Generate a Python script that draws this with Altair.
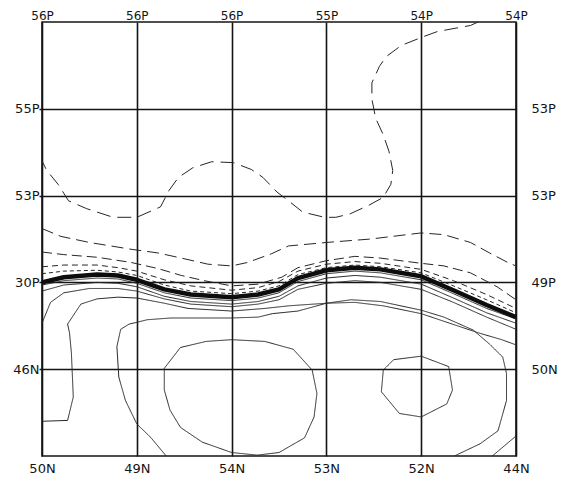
import json
import altair as alt
import pandas as pd

# ---- axis tick labels ----
top_labels = ["56P", "56P", "56P", "55P", "54P", "54P"]
bottom_labels = ["50N", "49N", "54N", "53N", "52N", "44N"]
left_labels = ["55P", "53P", "30P", "46N"]
right_labels = ["53P", "53P", "49P", "50N"]

# ---- contour lines, in grid units (x: column 0..5, y: row 0..5 from top) ----
A_x = [4.6, 4.52, 4.17, 4.02, 3.79, 3.63, 3.56, 3.48, 3.48, 3.52, 3.60, 3.66, 3.70, 3.68, 3.60, 3.45, 3.25, 3.10, 2.98,
       2.75, 2.60, 2.48, 2.33, 2.21, 2.02, 1.79, 1.59, 1.44, 1.34, 1.25, 1.00, 0.75, 0.47, 0.28, 0.17, 0.05, 0.0]
A_y = [0.0, 0.04, 0.11, 0.17, 0.27, 0.40, 0.51, 0.70, 0.89, 1.11, 1.30, 1.49, 1.71, 1.87, 2.02, 2.11, 2.21, 2.25, 2.25,
       2.19, 2.06, 1.96, 1.79, 1.70, 1.62, 1.61, 1.68, 1.79, 1.94, 2.13, 2.25, 2.25, 2.15, 2.06, 1.87, 1.71, 1.60]

B_x = [0.0, 0.2, 0.5, 0.95, 1.22, 1.47, 1.75, 2.0, 2.17, 2.42, 2.6, 3.0, 3.47, 4.0, 4.24, 4.52, 4.72, 4.93, 5.0]
B_y = [2.38, 2.47, 2.54, 2.62, 2.66, 2.72, 2.79, 2.81, 2.77, 2.67, 2.58, 2.54, 2.50, 2.43, 2.45, 2.54, 2.66, 2.78, 2.81]

C_x = [0.0, 0.23, 0.58, 0.94, 1.22, 1.47, 1.71, 2.0, 2.28, 2.53, 2.7, 3.0, 3.3, 3.57, 4.0, 4.24, 4.52, 4.8, 5.0]
C_y = [2.65, 2.68, 2.71, 2.77, 2.84, 2.92, 2.98, 3.04, 3.02, 2.94, 2.83, 2.75, 2.70, 2.72, 2.78, 2.81, 2.89, 3.05, 3.2]

F_x = [0.0, 0.23, 0.58, 0.8, 1.0, 1.29, 1.57, 2.0, 2.28, 2.5, 2.7, 3.0, 3.3, 3.57, 4.0, 4.34, 4.69, 5.0]
F_y = [3.0, 2.94, 2.91, 2.92, 2.97, 3.08, 3.14, 3.17, 3.14, 3.08, 2.95, 2.86, 2.83, 2.85, 2.93, 3.09, 3.26, 3.40]
D_y = [2.82, 2.80, 2.80, 2.83, 2.87, 2.97, 3.04, 3.09, 3.06, 2.99, 2.87, 2.79, 2.76, 2.78, 2.85, 2.98, 3.14, 3.30]
E_y = [2.90, 2.87, 2.86, 2.88, 2.92, 3.03, 3.10, 3.13, 3.10, 3.04, 2.91, 2.83, 2.80, 2.82, 2.89, 3.04, 3.20, 3.35]
T1_y = [3.03, 2.98, 2.95, 2.96, 3.01, 3.12, 3.18, 3.21, 3.18, 3.12, 2.99, 2.90, 2.87, 2.89, 2.97, 3.13, 3.30, 3.42]
T2_y = [3.10, 3.03, 3.00, 3.01, 3.05, 3.16, 3.22, 3.25, 3.22, 3.16, 3.04, 2.95, 2.92, 2.94, 3.02, 3.18, 3.35, 3.47]

T3_x = [0.0, 0.09, 0.23, 0.5, 0.8, 1.0, 1.29, 1.57, 2.0, 2.28, 2.5, 2.7, 3.0, 3.3, 3.57, 4.0, 4.34, 4.69, 5.0]
T3_y = [3.47, 3.23, 3.12, 3.07, 3.07, 3.10, 3.19, 3.25, 3.28, 3.25, 3.20, 3.08, 3.01, 2.98, 3.00, 3.08, 3.23, 3.40, 3.54]

J_x = [0.0, 0.27, 0.33, 0.31, 0.29, 0.27, 0.41, 0.58, 0.8, 1.0, 1.29, 1.54, 2.0, 2.35, 2.6, 3.0, 3.3, 3.6, 4.0, 4.3,
       4.6, 4.85, 5.0]
J_y = [4.6, 4.59, 4.32, 3.81, 3.58, 3.48, 3.25, 3.19, 3.17, 3.18, 3.24, 3.30, 3.33, 3.30, 3.27, 3.24, 3.23, 3.27, 3.36,
       3.47, 3.58, 3.66, 3.72]

M_x = [1.31, 1.15, 1.0, 0.88, 0.81, 0.79, 0.83, 0.92, 1.0, 1.11, 1.36, 1.64, 2.0, 2.28, 2.43, 2.7, 3.0, 3.26, 3.57,
       4.0, 4.24, 4.55, 4.72, 4.86, 4.9, 4.9, 4.81, 4.62, 4.35]
M_y = [5.0, 4.79, 4.63, 4.36, 4.09, 3.74, 3.54, 3.48, 3.46, 3.43, 3.41, 3.41, 3.41, 3.40, 3.36, 3.33, 3.24, 3.20, 3.22,
       3.32, 3.40, 3.55, 3.71, 3.86, 4.05, 4.36, 4.71, 4.86, 5.0]

L1_x = [1.29, 1.46, 1.73, 2.0, 2.35, 2.65, 2.85, 2.9, 2.87, 2.77, 2.5, 2.27, 2.0, 1.69, 1.46, 1.35, 1.29, 1.29]
L1_y = [3.99, 3.75, 3.68, 3.66, 3.68, 3.77, 4.01, 4.28, 4.55, 4.79, 4.96, 4.99, 4.96, 4.84, 4.67, 4.47, 4.24, 3.99]

L2_x = [3.6, 3.71, 4.0, 4.29, 4.33, 4.27, 4.0, 3.77, 3.58, 3.6]
L2_y = [4.01, 3.89, 3.85, 3.97, 4.24, 4.40, 4.55, 4.51, 4.26, 4.01]

N_x = [4.75, 5.0]
N_y = [5.0, 4.77]

rows = []


def add(name, xs, ys, style):
    for i, (x, y) in enumerate(zip(xs, ys)):
        rows.append({"line": name, "i": i, "x": x, "y": y, "style": style})


add("A", A_x, A_y, "dashA")
add("B", B_x, B_y, "dashB")
add("C", C_x, C_y, "dashC")
add("D", F_x, D_y, "dashD")
add("E", F_x, E_y, "dashE")
add("T1", F_x, T1_y, "solid")
add("T2", F_x, T2_y, "solid")
add("T3", T3_x, T3_y, "solid")
add("J", J_x, J_y, "solid")
add("M", M_x, M_y, "solid")
add("L1", L1_x, L1_y, "solid")
add("L2", L2_x, L2_y, "solid")
add("N", N_x, N_y, "solid")
df = pd.DataFrame(rows)
thick = pd.DataFrame({"x": F_x, "y": F_y, "i": list(range(len(F_x)))})

FONT = "DejaVu Sans"
FS = 13
INK = "#141414"


def lab(arr, offset=0):
    return f"{json.dumps(arr)}[datum.value - {offset}]"


contours = alt.Chart(df).mark_line(strokeWidth=1, color="#262626").encode(
    x=alt.X("x:Q", scale=alt.Scale(domain=[0, 5], nice=False, zero=False), title=None,
            axis=alt.Axis(orient="bottom", values=[0, 1, 2, 3, 4, 5], labelExpr=lab(bottom_labels),
                          grid=True, gridColor=INK, gridWidth=1.6, gridOpacity=1, ticks=False,
                          domain=False, labelPadding=6, labelFlush=False, labelFont=FONT,
                          labelFontSize=FS, labelColor=INK)),
    y=alt.Y("y:Q", scale=alt.Scale(domain=[0, 5], nice=False, zero=False, reverse=True), title=None,
            axis=alt.Axis(orient="left", values=[1, 2, 3, 4], labelExpr=lab(left_labels, 1),
                          grid=True, gridColor=INK, gridWidth=1.6, gridOpacity=1, ticks=True,
                          tickSize=3, tickColor=INK, tickWidth=1.5, domain=False, labelPadding=0,
                          labelFont=FONT, labelFontSize=FS, labelColor=INK)),
    detail="line:N",
    order="i:Q",
    strokeDash=alt.StrokeDash("style:N", legend=None, scale=alt.Scale(
        domain=["dashA", "dashB", "dashC", "dashD", "dashE", "solid"],
        range=[[14, 7], [12, 6], [10, 5], [6, 4], [4, 3], [1, 0]])),
)

thick_line = alt.Chart(thick).mark_line(strokeWidth=4.5, color="#0d0d0d", strokeJoin="round").encode(
    x=alt.X("x:Q", scale=alt.Scale(domain=[0, 5], nice=False, zero=False), title=None,
            axis=alt.Axis(orient="top", values=[0, 1, 2, 3, 4, 5], labelExpr=lab(top_labels),
                          grid=False, ticks=False, domain=False, labelPadding=0, labelFlush=False,
                          labelFont=FONT, labelFontSize=12, labelColor=INK)),
    y=alt.Y("y:Q", scale=alt.Scale(domain=[0, 5], nice=False, zero=False, reverse=True), title=None,
            axis=alt.Axis(orient="right", values=[1, 2, 3, 4], labelExpr=lab(right_labels, 1),
                          grid=False, ticks=False, domain=False, labelPadding=15, labelFont=FONT,
                          labelFontSize=FS, labelColor=INK)),
    order="i:Q",
)

chart = alt.layer(contours, thick_line).resolve_scale(x="independent", y="independent").properties(
    width=474, height=434,
    padding={"left": 34, "top": 14, "right": 46, "bottom": 20},
    autosize=alt.AutoSizeParams(type="none"),
    background="white",
).configure_view(stroke=INK, strokeWidth=1.6)

chart.save("out.html", embed_options={"renderer": "svg", "actions": False})
